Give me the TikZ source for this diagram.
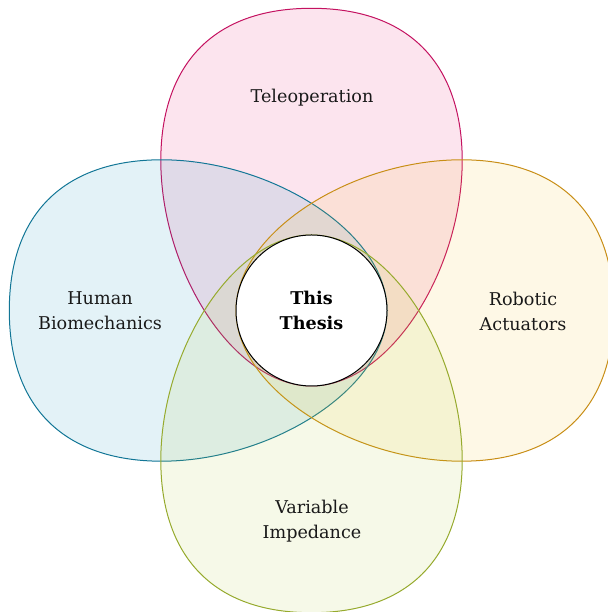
\documentclass[tikz,border=0pt]{standalone}
\usepackage{fontspec}
\setmainfont{DejaVu Serif}
\definecolor{pinkc}{RGB}{196,18,96}
\definecolor{bluec}{RGB}{18,118,150}
\definecolor{yellowc}{RGB}{200,142,22}
\definecolor{greenc}{RGB}{150,170,45}
\definecolor{pinkf}{RGB}{228,10,100}
\definecolor{bluef}{RGB}{0,137,182}
\definecolor{yellowf}{RGB}{246,191,28}
\definecolor{greenf}{RGB}{173,200,46}
\begin{document}
\begin{tikzpicture}[x=1pt,y=1pt,
  petal/.style={line width=1pt, fill opacity=0.11},
  lbl/.style={align=center, text=black!90, font=\fontsize{17.6}{25}\selectfont},
  core/.style={circle, draw=black, line width=1pt, fill=white, minimum size=151pt, inner sep=0pt, align=center, font=\bfseries\fontsize{17.6}{25}\selectfont}]
\useasboundingbox (0,0) rectangle (607,612);
\coordinate (C) at (311.5,301.5);
\newcommand\mypetal{(0,-75.5) .. controls (-78,-75.5) and (-150.7,40) .. (-150.7,150)
  .. controls (-150.7,238) and (-105.5,302.2) .. (0,302.2)
  .. controls (105.5,302.2) and (150.7,238) .. (150.7,150)
  .. controls (150.7,40) and (78,-75.5) .. (0,-75.5) -- cycle}
\begin{scope}[shift={(C)}]
  \draw[petal, draw=pinkc, fill=pinkf] \mypetal;
  \draw[petal, draw=bluec, fill=bluef, rotate=90] \mypetal;
  \draw[petal, draw=yellowc, fill=yellowf, rotate=-90] \mypetal;
  \draw[petal, draw=greenc, fill=greenf, rotate=180] \mypetal;
\end{scope}
\node[lbl] (tele) at (312,514) {Teleoperation};
\node[lbl] (bio) at (100,301) {Human\\Biomechanics};
\node[lbl] (rob) at (523,301) {Robotic\\Actuators};
\node[lbl] (var) at (312,91) {Variable\\Impedance};
\node[core] (thesis) at (C) {This\\Thesis};
\end{tikzpicture}
\end{document}
